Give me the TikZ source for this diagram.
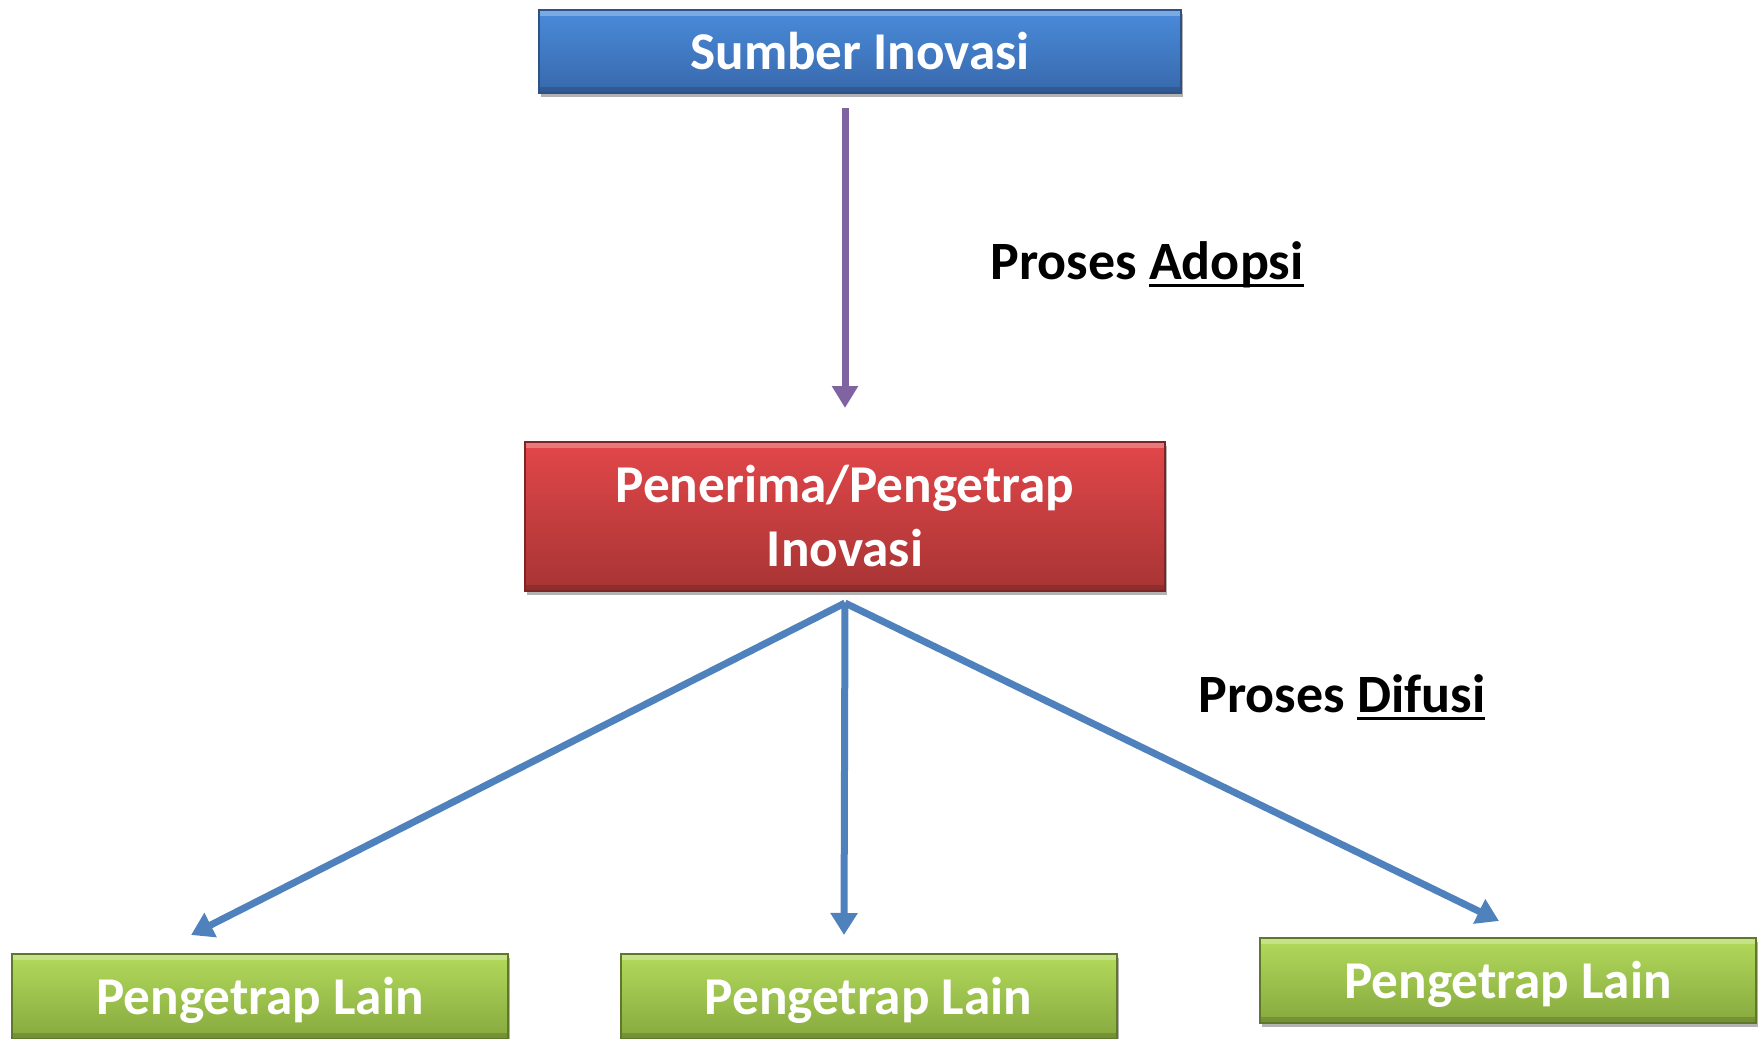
\documentclass[tikz,border=0pt]{standalone}
\usepackage{fontspec}
\setmainfont{Carlito}
\usetikzlibrary{arrows.meta,shadows}
\definecolor{bluetop}{HTML}{4A8BDA}
\definecolor{bluebot}{HTML}{3868AC}
\definecolor{blueedge}{HTML}{2C5288}
\definecolor{redtop}{HTML}{E2474A}
\definecolor{redbot}{HTML}{A83434}
\definecolor{rededge}{HTML}{7E2424}
\definecolor{greentop}{HTML}{B2DA5C}
\definecolor{greenbot}{HTML}{86A93E}
\definecolor{greenedge}{HTML}{60782A}
\definecolor{purplearr}{HTML}{8064A2}
\definecolor{bluearr}{HTML}{4F81BD}
\newlength\myulw
\newcommand\myul[1]{\settowidth\myulw{#1}\rlap{\rule[-3.6pt]{\myulw}{1.5pt}}#1}
\tikzset{
  boxbase/.style={rectangle, inner sep=0pt, align=center, text=white,
    font=\fontsize{26.6}{32}\selectfont\bfseries, line width=1pt,
    drop shadow={shadow xshift=1.2pt, shadow yshift=-2.2pt, opacity=0.3, fill=black},
    path picture={
      \fill[white, opacity=0.28] (path picture bounding box.north west) rectangle ([yshift=-3pt]path picture bounding box.north east);
      \fill[black, opacity=0.15] (path picture bounding box.south west) rectangle ([yshift=3pt]path picture bounding box.south east);
    }},
  bluebox/.style={boxbase, top color=bluetop, bottom color=bluebot, draw=blueedge,
    minimum width=321pt, minimum height=41.5pt},
  redbox/.style={boxbase, top color=redtop, bottom color=redbot, draw=rededge,
    minimum width=320pt, minimum height=74.5pt},
  greenbox/.style={boxbase, top color=greentop, bottom color=greenbot, draw=greenedge,
    minimum width=248pt, minimum height=42.5pt, text height=23pt, text depth=5.4pt},
  lbl/.style={font=\fontsize{27}{32}\selectfont\bfseries, text=black, inner sep=0pt},
  purplearrow/.style={draw=purplearr, line width=3.5pt, -{Triangle[length=11pt,width=12.5pt]}},
  bluearrow/.style={draw=bluearr, line width=3.5pt, -{Triangle[length=11pt,width=13pt]}},
}
\begin{document}
\begin{tikzpicture}[x=0.5pt,y=-0.5pt]
\useasboundingbox (0,0) rectangle (1758,1039);
\node[bluebox] (top) at (860,51.5) {Sumber Inovasi};
\node[redbox] (red) at (845,516.5) {Penerima/Pengetrap\\Inovasi};
\node[greenbox] (g1) at (260,996.5) {Pengetrap Lain};
\node[greenbox] (g2) at (868.5,996.5) {Pengetrap Lain};
\node[greenbox] (g3) at (1508,980.5) {Pengetrap Lain};
\node[lbl] (adopsi) at (1147,265) {Proses \myul{Adopsi}};
\node[lbl] (difusi) at (1342,697) {Proses \myul{Difusi}};
\draw[purplearrow] ([yshift=-7pt]top.south -| red.north) -- ([yshift=16.5pt]red.north);
\coordinate (src) at ([yshift=-5.5pt]red.south);
\draw[bluearrow] (src) -- ([xshift=-34.5pt,yshift=9pt]g1.north);
\draw[bluearrow] (src) -- ([xshift=-12.25pt,yshift=9pt]g2.north);
\draw[bluearrow] (src) -- ([xshift=-4.5pt,yshift=8pt]g3.north);
\end{tikzpicture}
\end{document}
